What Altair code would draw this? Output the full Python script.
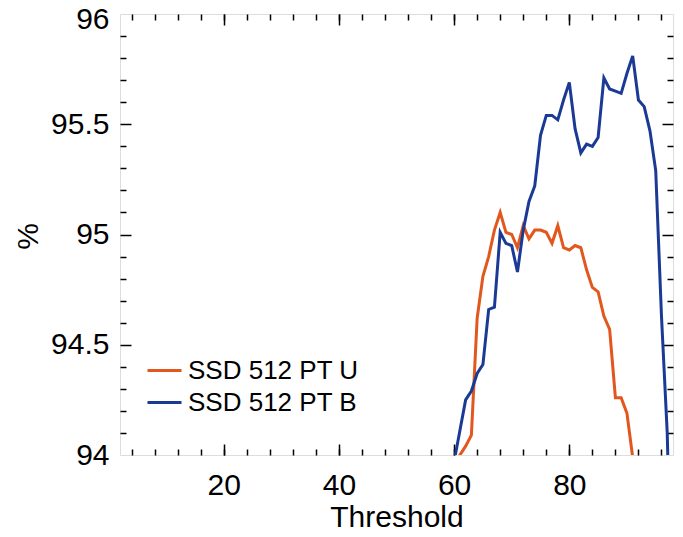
import altair as alt
import pandas as pd

series_names = ["SSD 512 PT U", "SSD 512 PT B"]
series_colors = ["#E2571E", "#1B3A96"]

orange_x = list(range(60, 93))
orange_y = [93.96, 94.00, 94.04, 94.09, 94.62, 94.81, 94.90, 95.02, 95.10, 95.01,
            95.00, 94.94, 95.04, 94.98, 95.02, 95.02, 95.01, 94.96, 95.04, 94.94,
            94.93, 94.95, 94.94, 94.84, 94.76, 94.74, 94.63, 94.57, 94.26, 94.26,
            94.19, 93.99, 93.80]

blue_x = list(range(60, 99))
blue_y = [93.97, 94.11, 94.25, 94.29, 94.37, 94.41, 94.66, 94.67, 95.01, 94.96,
          94.95, 94.83, 95.02, 95.15, 95.22, 95.45, 95.54, 95.54, 95.52, 95.61,
          95.69, 95.48, 95.37, 95.41, 95.40, 95.44, 95.71, 95.66, 95.65, 95.64,
          95.73, 95.81, 95.61, 95.58, 95.47, 95.29, 94.63, 94.10, 93.00]

x_major = [20, 40, 60, 80]
x_minor = list(range(4, 97, 4))
y_labels = [94, 94.5, 95, 95.5]
y_top_label = [96]
y_major = [94.5, 95, 95.5]
y_minor = [94.1, 94.2, 94.3, 94.4, 94.6, 94.7, 94.8, 94.9,
           95.1, 95.2, 95.3, 95.4, 95.6, 95.7, 95.8, 95.9]

x_domain = [2, 98]
y_domain = [94, 96]

df = pd.concat([
    pd.DataFrame({"Threshold": orange_x, "pct": orange_y, "series": series_names[0]}),
    pd.DataFrame({"Threshold": blue_x, "pct": blue_y, "series": series_names[1]}),
])

FONT = "Liberation Sans"
MINOR = 6
MAJOR = 11

xs = alt.Scale(domain=x_domain, nice=False, zero=False)
ys = alt.Scale(domain=y_domain, nice=False, zero=False)


def tick_axis(orient, values, size):
    return alt.Axis(orient=orient, values=values, tickSize=size, offset=-size,
                    labels=False, domain=False, grid=False, title=None,
                    tickColor="black", tickWidth=1.5)


base = alt.Chart(df)

lines = base.mark_line(clip=True, strokeWidth=3).encode(
    x=alt.X("Threshold:Q", scale=xs,
            axis=alt.Axis(orient="bottom", values=x_major, ticks=False, domain=False,
                          grid=False, title="Threshold", labelFontSize=30,
                          labelPadding=15, labelFont=FONT, labelColor="black",
                          titleFont=FONT, titleFontSize=30, titleFontWeight="normal",
                          titleColor="black", titleBaseline="alphabetic",
                          titleY=71)),
    y=alt.Y("pct:Q", scale=ys,
            axis=alt.Axis(orient="left", values=y_labels, ticks=False, domain=False,
                          grid=False, title="%", format="~g", labelFontSize=30,
                          labelPadding=11, labelFont=FONT, labelColor="black",
                          titleFont=FONT, titleFontSize=30, titleFontWeight="normal",
                          titleColor="black", titleBaseline="alphabetic",
                          titleAngle=-90, titleAlign="center",
                          titleX=-83, titleY=222)),
    color=alt.Color("series:N",
                    scale=alt.Scale(domain=series_names, range=series_colors),
                    legend=alt.Legend(orient="none", legendX=26, legendY=338,
                                      title=None, symbolType="stroke",
                                      symbolSize=1156, symbolStrokeWidth=3,
                                      labelFontSize=26, labelFont=FONT,
                                      labelColor="black", labelOffset=5,
                                      labelLimit=0, rowPadding=0, padding=0)),
    detail="series:N",
)


def tick_layer(xo, xv, yo, yv, size):
    return base.mark_point(opacity=0).encode(
        x=alt.X("Threshold:Q", scale=xs, axis=tick_axis(xo, xv, size)),
        y=alt.Y("pct:Q", scale=ys, axis=tick_axis(yo, yv, size)),
    )


top_label = base.mark_point(opacity=0).encode(
    x=alt.X("Threshold:Q", scale=xs, axis=None),
    y=alt.Y("pct:Q", scale=ys,
            axis=alt.Axis(orient="left", values=y_top_label, ticks=False,
                          domain=False, grid=False, title=None, format="~g",
                          labelFontSize=30, labelPadding=11, labelFont=FONT,
                          labelColor="black", labelOffset=5)),
)

chart = alt.layer(
    lines,
    tick_layer("bottom", x_minor, "left", y_minor, MINOR),
    tick_layer("bottom", x_major, "left", y_major, MAJOR),
    tick_layer("top", x_minor, "right", y_minor, MINOR),
    tick_layer("top", x_major, "right", y_major, MAJOR),
    top_label,
).resolve_axis(x="independent", y="independent").properties(
    width=553, height=441,
    autosize=alt.AutoSizeParams(type="none"),
    padding={"left": 112, "top": 6, "right": 2, "bottom": 72},
).configure_view(stroke="black", strokeWidth=1.5).configure(background="white")

chart.save("out.html", embed_options={"renderer": "svg", "actions": False})
